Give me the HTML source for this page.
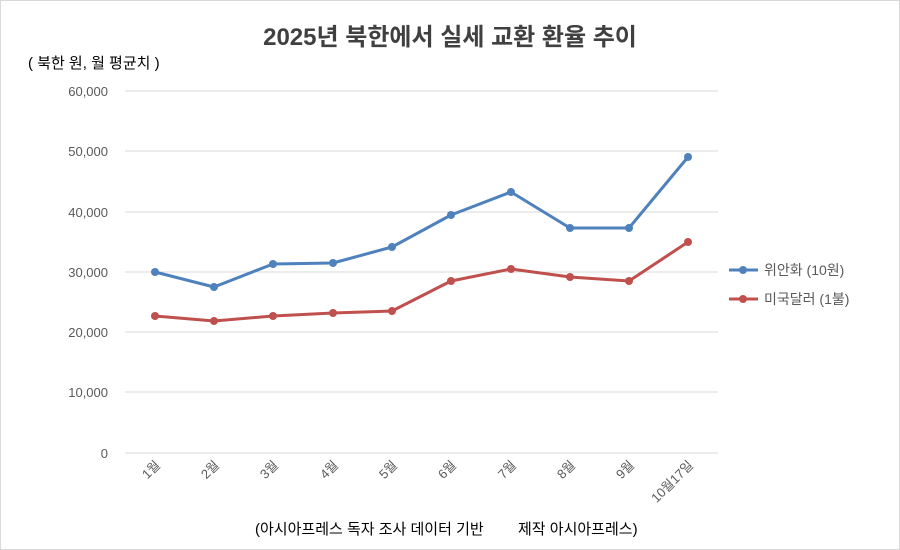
<!DOCTYPE html>
<html><head><meta charset="utf-8"><style>
html,body{margin:0;padding:0;background:#fff}
svg{display:block}
text{font-family:"Liberation Sans","Noto Sans CJK KR",sans-serif}
</style></head><body>
<svg width="900" height="550" xmlns="http://www.w3.org/2000/svg">
<rect x="0.5" y="0.5" width="899" height="549" fill="#fff" stroke="#d9d9d9"/>
<text x="450" y="45" text-anchor="middle" font-size="24" font-weight="bold" fill="#404040">2025년 북한에서 실세 교환 환율 추이</text>
<text x="28" y="68" font-size="15" fill="#000">( 북한 원, 월 평균치 )</text>
<g stroke="#d9d9d9" stroke-width="1">
<line x1="125" y1="91" x2="718" y2="91"/>
<line x1="125" y1="151" x2="718" y2="151"/>
<line x1="125" y1="212" x2="718" y2="212"/>
<line x1="125" y1="272" x2="718" y2="272"/>
<line x1="125" y1="332" x2="718" y2="332"/>
<line x1="125" y1="392" x2="718" y2="392"/>
<line x1="125" y1="453" x2="718" y2="453"/>
</g>
<g font-size="13" fill="#595959" text-anchor="end">
<text x="108" y="96">60,000</text>
<text x="108" y="156">50,000</text>
<text x="108" y="217">40,000</text>
<text x="108" y="277">30,000</text>
<text x="108" y="337">20,000</text>
<text x="108" y="397">10,000</text>
<text x="108" y="458">0</text>
</g>
<g font-size="13" fill="#595959" text-anchor="end">
<text transform="translate(161,466) rotate(-45)">1월</text>
<text transform="translate(220,466) rotate(-45)">2월</text>
<text transform="translate(279,466) rotate(-45)">3월</text>
<text transform="translate(339,466) rotate(-45)">4월</text>
<text transform="translate(398,466) rotate(-45)">5월</text>
<text transform="translate(457,466) rotate(-45)">6월</text>
<text transform="translate(517,466) rotate(-45)">7월</text>
<text transform="translate(576,466) rotate(-45)">8월</text>
<text transform="translate(635,466) rotate(-45)">9월</text>
<text transform="translate(694,466) rotate(-45)">10월17일</text>
</g>
<polyline fill="none" stroke="#4f81bd" stroke-width="3" stroke-linejoin="round" points="155,272 214,287 273,264 333,263 392,247 451,215 511,192 570,228 629,228 688,157"/>
<polyline fill="none" stroke="#c0504d" stroke-width="3" stroke-linejoin="round" points="155,316 214,321 273,316 333,313 392,311 451,281 511,269 570,277 629,281 688,242"/>
<g fill="#4f81bd">
<circle cx="155" cy="272" r="4"/><circle cx="214" cy="287" r="4"/><circle cx="273" cy="264" r="4"/><circle cx="333" cy="263" r="4"/><circle cx="392" cy="247" r="4"/><circle cx="451" cy="215" r="4"/><circle cx="511" cy="192" r="4"/><circle cx="570" cy="228" r="4"/><circle cx="629" cy="228" r="4"/><circle cx="688" cy="157" r="4"/>
</g>
<g fill="#c0504d">
<circle cx="155" cy="316" r="4"/><circle cx="214" cy="321" r="4"/><circle cx="273" cy="316" r="4"/><circle cx="333" cy="313" r="4"/><circle cx="392" cy="311" r="4"/><circle cx="451" cy="281" r="4"/><circle cx="511" cy="269" r="4"/><circle cx="570" cy="277" r="4"/><circle cx="629" cy="281" r="4"/><circle cx="688" cy="242" r="4"/>
</g>
<line x1="729" y1="270" x2="758" y2="270" stroke="#4f81bd" stroke-width="3"/>
<circle cx="743" cy="270" r="4" fill="#4f81bd"/>
<text x="764" y="275" font-size="14" fill="#595959">위안화 (10원)</text>
<line x1="729" y1="299" x2="758" y2="299" stroke="#c0504d" stroke-width="3"/>
<circle cx="743" cy="299" r="4" fill="#c0504d"/>
<text x="764" y="304" font-size="14" fill="#595959">미국달러 (1불)</text>
<text x="255" y="534" font-size="15" fill="#000">(아시아프레스 독자 조사 데이터 기반</text>
<text x="518" y="534" font-size="15" fill="#000">제작 아시아프레스)</text>
</svg>
</body></html>
